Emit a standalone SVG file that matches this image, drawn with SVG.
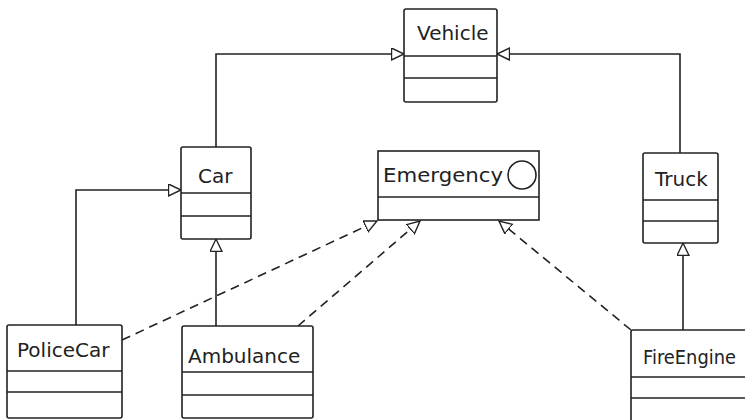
<svg xmlns="http://www.w3.org/2000/svg" width="745" height="420" viewBox="0 0 745 420">
<style>
.box{fill:#fff;stroke:#222;stroke-width:1.6}
.sep{stroke:#222;stroke-width:1.6}
.lbl{font-family:"DejaVu Sans",sans-serif;font-size:20px;fill:#222}
.conn{fill:none;stroke:#222;stroke-width:1.6}
.dash{stroke-dasharray:9,6}
</style>
<defs>
<marker id="tri" markerUnits="userSpaceOnUse" markerWidth="15" markerHeight="15" refX="13" refY="6.5" orient="auto">
<path d="M0.5,0.5 L13,6.5 L0.5,12.5 Z" fill="#fff" stroke="#222" stroke-width="1.4"/>
</marker>
</defs>
<rect width="745" height="420" fill="#fff"/>
<g id="connectors">
<path class="conn" d="M216,147 V54 H404" marker-end="url(#tri)"/>
<path class="conn" d="M680,153 V54 H497" marker-end="url(#tri)"/>
<path class="conn" d="M76,325 V190 H181" marker-end="url(#tri)"/>
<path class="conn" d="M216,326 V239" marker-end="url(#tri)"/>
<path class="conn" d="M683,330 V243" marker-end="url(#tri)"/>
<path class="conn dash" d="M122,340 L377,221" marker-end="url(#tri)"/>
<path class="conn dash" d="M298,326 L420,221" marker-end="url(#tri)"/>
<path class="conn dash" d="M631,330 L499,221" marker-end="url(#tri)"/>
</g>
<g id="Vehicle">
<rect class="box" x="404" y="9" width="93" height="93" rx="2"/>
<line class="sep" x1="404" y1="56" x2="497" y2="56"/>
<line class="sep" x1="404" y1="78" x2="497" y2="78"/>
<text class="lbl" x="417" y="40">Vehicle</text>
</g>
<g id="Car">
<rect class="box" x="181" y="147" width="70" height="92" rx="2"/>
<line class="sep" x1="181" y1="193" x2="251" y2="193"/>
<line class="sep" x1="181" y1="216" x2="251" y2="216"/>
<text class="lbl" x="198" y="183">Car</text>
</g>
<g id="Emergency">
<rect class="box" x="378" y="151" width="161" height="69"/>
<line class="sep" x1="378" y1="197" x2="539" y2="197"/>
<text class="lbl" x="383" y="182" textLength="120" lengthAdjust="spacingAndGlyphs">Emergency</text>
<circle cx="522" cy="175" r="14" fill="none" stroke="#222" stroke-width="1.6"/>
</g>
<g id="Truck">
<rect class="box" x="643" y="153" width="75" height="90" rx="2"/>
<line class="sep" x1="643" y1="200" x2="718" y2="200"/>
<line class="sep" x1="643" y1="221" x2="718" y2="221"/>
<text class="lbl" x="655" y="186">Truck</text>
</g>
<g id="PoliceCar">
<rect class="box" x="7" y="325" width="115" height="93" rx="2"/>
<line class="sep" x1="7" y1="371" x2="122" y2="371"/>
<line class="sep" x1="7" y1="392" x2="122" y2="392"/>
<text class="lbl" x="17" y="357">PoliceCar</text>
</g>
<g id="Ambulance">
<rect class="box" x="182" y="326" width="131" height="92" rx="2"/>
<line class="sep" x1="182" y1="372" x2="313" y2="372"/>
<line class="sep" x1="182" y1="395" x2="313" y2="395"/>
<text class="lbl" x="188" y="363">Ambulance</text>
</g>
<g id="FireEngine">
<rect class="box" x="631" y="330" width="130" height="100" rx="2"/>
<line class="sep" x1="631" y1="377" x2="761" y2="377"/>
<line class="sep" x1="631" y1="398" x2="761" y2="398"/>
<text class="lbl" x="643" y="364" font-size="19" textLength="93" lengthAdjust="spacingAndGlyphs">FireEngine</text>
</g>
</svg>
